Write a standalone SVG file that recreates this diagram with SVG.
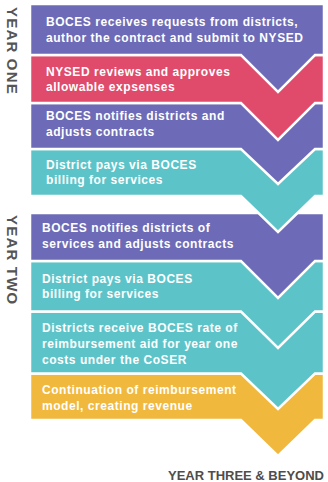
<svg xmlns="http://www.w3.org/2000/svg" width="328" height="482" viewBox="0 0 328 482">
<style>
.box{stroke:#ffffff;stroke-width:2.5;stroke-linejoin:miter}
.pur{fill:#6d6bb7}
.red{fill:#e04b6c}
.teal{fill:#5cc4c9}
.yel{fill:#f1b83e}
.t{font-family:"Liberation Sans",Arial,sans-serif;font-weight:bold;font-size:12px;fill:#ffffff;letter-spacing:0.55px}
.yr{font-family:"Liberation Sans",Arial,sans-serif;font-weight:bold;font-size:15px;fill:#555555;letter-spacing:1.2px}
.yr3{font-family:"Liberation Sans",Arial,sans-serif;font-weight:bold;font-size:13px;fill:#4d4d4d}
</style>
<rect width="328" height="482" fill="#ffffff"/>
<g id="node8">
<polygon class="box yel" points="30,373.5 324,373.5 324,420 315,420 278,456 241,420 30,420"/>
<text class="t" x="42" y="394">Continuation of reimbursement</text>
<text class="t" x="42" y="410">model, creating revenue</text>
</g>
<g id="node7">
<polygon class="box teal" points="30,311.5 324,311.5 324,373.5 315,373.5 278,409 241,373.5 30,373.5"/>
<text class="t" x="42" y="332">Districts receive BOCES rate of</text>
<text class="t" x="42" y="348">reimbursement aid for year one</text>
<text class="t" x="42" y="364">costs under the CoSER</text>
</g>
<g id="node6">
<polygon class="box teal" points="30,261 324,261 324,311.5 315,311.5 278,348 241,311.5 30,311.5"/>
<text class="t" x="42" y="283">District pays via BOCES</text>
<text class="t" x="42" y="298">billing for services</text>
</g>
<g id="node5">
<polygon class="box pur" points="30,213 324,213 324,261 315,261 278,298 241,261 30,261"/>
<text class="t" x="42" y="232">BOCES notifies districts of</text>
<text class="t" x="42" y="248">services and adjusts contracts</text>
</g>
<g id="node4">
<polygon class="box teal" points="30,149 324,149 324,196 315,196 278,232 241,196 30,196"/>
<text class="t" x="46" y="169">District pays via BOCES</text>
<text class="t" x="46" y="184">billing for services</text>
</g>
<g id="node3">
<polygon class="box pur" points="30,103 324,103 324,149 315,149 278,184 241,149 30,149"/>
<text class="t" x="46" y="120">BOCES notifies districts and</text>
<text class="t" x="46" y="136">adjusts contracts</text>
</g>
<g id="node2">
<polygon class="box red" points="30,55 324,55 324,103 315,103 278,140 241,103 30,103"/>
<text class="t" x="46" y="76">NYSED reviews and approves</text>
<text class="t" x="46" y="91">allowable expsenses</text>
</g>
<g id="node1">
<polygon class="box pur" points="30,4 324,4 324,55 315,55 278,92 241,55 30,55"/>
<text class="t" x="46" y="26">BOCES receives requests from districts,</text>
<text class="t" x="46" y="42">author the contract and submit to NYSED</text>
</g>
<g id="labels">
<text class="yr" transform="translate(7,7) rotate(90)">YEAR ONE</text>
<text class="yr" transform="translate(7,215) rotate(90)" letter-spacing="0.6">YEAR TWO</text>
<text class="yr3" x="324" y="480" text-anchor="end">YEAR THREE &amp; BEYOND</text>
</g>
</svg>
